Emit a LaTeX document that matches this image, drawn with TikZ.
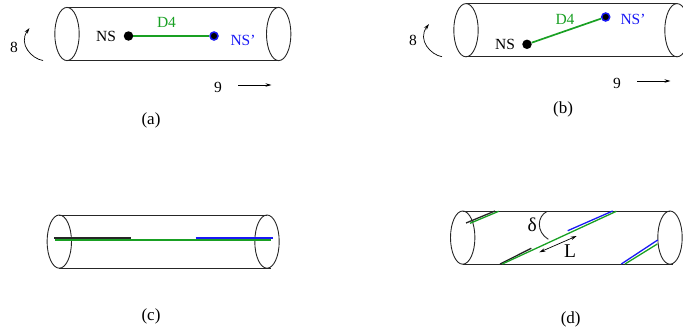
\documentclass[tikz,border=0pt]{standalone}
\usepackage{fontspec}
\setmainfont{Liberation Serif}
\usepackage{xcolor}
\usepackage{tikz}
\usetikzlibrary{arrows.meta, positioning, calc}

\definecolor{branegreen}{RGB}{25,160,35}
\definecolor{braneblue}{RGB}{25,25,245}

\tikzset{
    lbl/.style={font=\fontsize{15.5}{18}\selectfont, inner sep=0pt},
    biglbl/.style={font=\fontsize{19.5}{22}\selectfont, inner sep=0pt},
    caption/.style={font=\fontsize{17}{20}\selectfont, inner sep=0pt},
    tube/.style={line width=0.9pt, black!85},
    dirarrow/.style={line width=0.7pt, -{Stealth[length=6pt,width=3.5pt]}},
    greenstring/.style={branegreen, line width=1.7pt},
    nsdot/.style={circle, fill=black, minimum size=9.5pt, inner sep=0pt},
    nspdot/.style={circle, fill=black, draw=braneblue, line width=1.5pt, minimum size=8pt, inner sep=0pt},
    thickblack/.style={black!85, line width=1.7pt},
    thickblue/.style={braneblue, line width=1.7pt}
}

\begin{document}
\begin{tikzpicture}[x=1pt, y=-1pt]

\useasboundingbox (0,0) rectangle (683,332);

% the four tubes
\foreach \xl/\xr/\yc/\xe in {67/278.7/34/278.7, 466/677/30.2/677, 59.3/267/241.6/271, 462.7/670/237.6/673} {
    \draw[tube] (\xl,\yc-26.6) -- (\xr,\yc-26.6);
    \draw[tube] (\xl,\yc+26.6) -- (\xe,\yc+26.6);
    \draw[tube] (\xl,\yc) ellipse [x radius=12.2pt, y radius=26.6pt];
    \draw[tube] (\xr,\yc) ellipse [x radius=12.2pt, y radius=26.6pt];
}

% panel a
\node[nsdot] (nsa) at (128.5,36) {};
\node[nspdot] (nspa) at (214,36) {};
\draw[greenstring] (nsa) -- (nspa);
\node[lbl] (nslabela) at (106,36) {NS};
\node[lbl, text=braneblue] (nsplabela) at (243,40) {NS'};
\node[lbl, text=branegreen] (dfoura) at (166.5,22.5) {D4};
\node[lbl] (eighta) at (14,47.5) {8};
\node[lbl] (ninea) at (218,87) {9};
\coordinate (arca) at (43,60.5);
\coordinate (arcenda) at (29.5,28);
\draw[dirarrow] (arca) .. controls (32,59) and (18,44) .. (arcenda);
\coordinate (dira) at (238,85);
\coordinate (direnda) at (271.5,85);
\draw[dirarrow] (dira) -- (direnda);
\node[caption] (capa) at (151,120.5) {(a)};

% panel b
\node[nsdot] (nsb) at (527,44.3) {};
\node[nspdot] (nspb) at (605.7,17) {};
\draw[greenstring] (nsb) -- (nspb);
\node[lbl] (nslabelb) at (505,44) {NS};
\node[lbl, text=braneblue] (nsplabelb) at (633,19) {NS'};
\node[lbl, text=branegreen] (dfourb) at (565,19) {D4};
\node[lbl] (eightb) at (413,40) {8};
\node[lbl] (nineb) at (617,83.5) {9};
\coordinate (arcb) at (442,56.7);
\coordinate (arcendb) at (429,24);
\draw[dirarrow] (arcb) .. controls (431,55) and (417,40) .. (arcendb);
\coordinate (dirb) at (637,81);
\coordinate (direndb) at (670.5,81);
\draw[dirarrow] (dirb) -- (direndb);
\node[caption] (capb) at (563,109) {(b)};

% panel c
\coordinate (blackcl) at (54.3,237.7);
\coordinate (blackcr) at (131.3,237.7);
\coordinate (greencl) at (55,239.7);
\coordinate (greencr) at (270.7,239.7);
\coordinate (bluecl) at (195.7,237.7);
\coordinate (bluecr) at (272.7,237.7);
\draw[thickblack] (blackcl) -- (blackcr);
\draw[thickblue] (bluecl) -- (bluecr);
\draw[greenstring] (greencl) -- (greencr);
\node[caption] (capc) at (151,316) {(c)};

% panel d
\coordinate (blackda) at (466,223);
\coordinate (blackdb) at (495,211);
\coordinate (greenda) at (470,223.3);
\coordinate (greendb) at (498.7,211.3);
\coordinate (blackdc) at (500,264);
\coordinate (blackdd) at (531.3,248.3);
\coordinate (greendc) at (502.3,264);
\coordinate (greendd) at (616.3,211.3);
\coordinate (blueda) at (567.7,230.7);
\coordinate (bluedb) at (612.7,211);
\coordinate (bluedc) at (621.3,264);
\coordinate (bluedd) at (657.7,240);
\coordinate (greende) at (625,264);
\coordinate (greendf) at (657.3,244);
\draw[thickblack, line width=1.3pt] (blackda) -- (blackdb);
\draw[greenstring, line width=1.3pt] (greenda) -- (greendb);
\draw[thickblack, line width=1.3pt] (blackdc) -- (blackdd);
\draw[greenstring, line width=1.3pt] (greendc) -- (greendd);
\draw[thickblue, line width=1.3pt] (blueda) -- (bluedb);
\draw[thickblue, line width=1.3pt] (bluedc) -- (bluedd);
\draw[greenstring, line width=1.3pt] (greende) -- (greendf);
\coordinate (anglea) at (547.3,211.3);
\coordinate (angleb) at (548.3,239.3);
\draw[tube] (anglea) .. controls (537,216) and (536,232) .. (angleb);
\coordinate (lena) at (539.3,252.3);
\coordinate (lenb) at (576.7,236);
\draw[line width=0.7pt, {Stealth[length=6pt,width=3.5pt]}-{Stealth[length=6pt,width=3.5pt]}] (lena) -- (lenb);
\node[biglbl] (deltad) at (532.3,225) {δ};
\node[biglbl] (lend) at (570,250.7) {L};
\node[caption] (capd) at (570.7,319.5) {(d)};

\end{tikzpicture}
\end{document}
